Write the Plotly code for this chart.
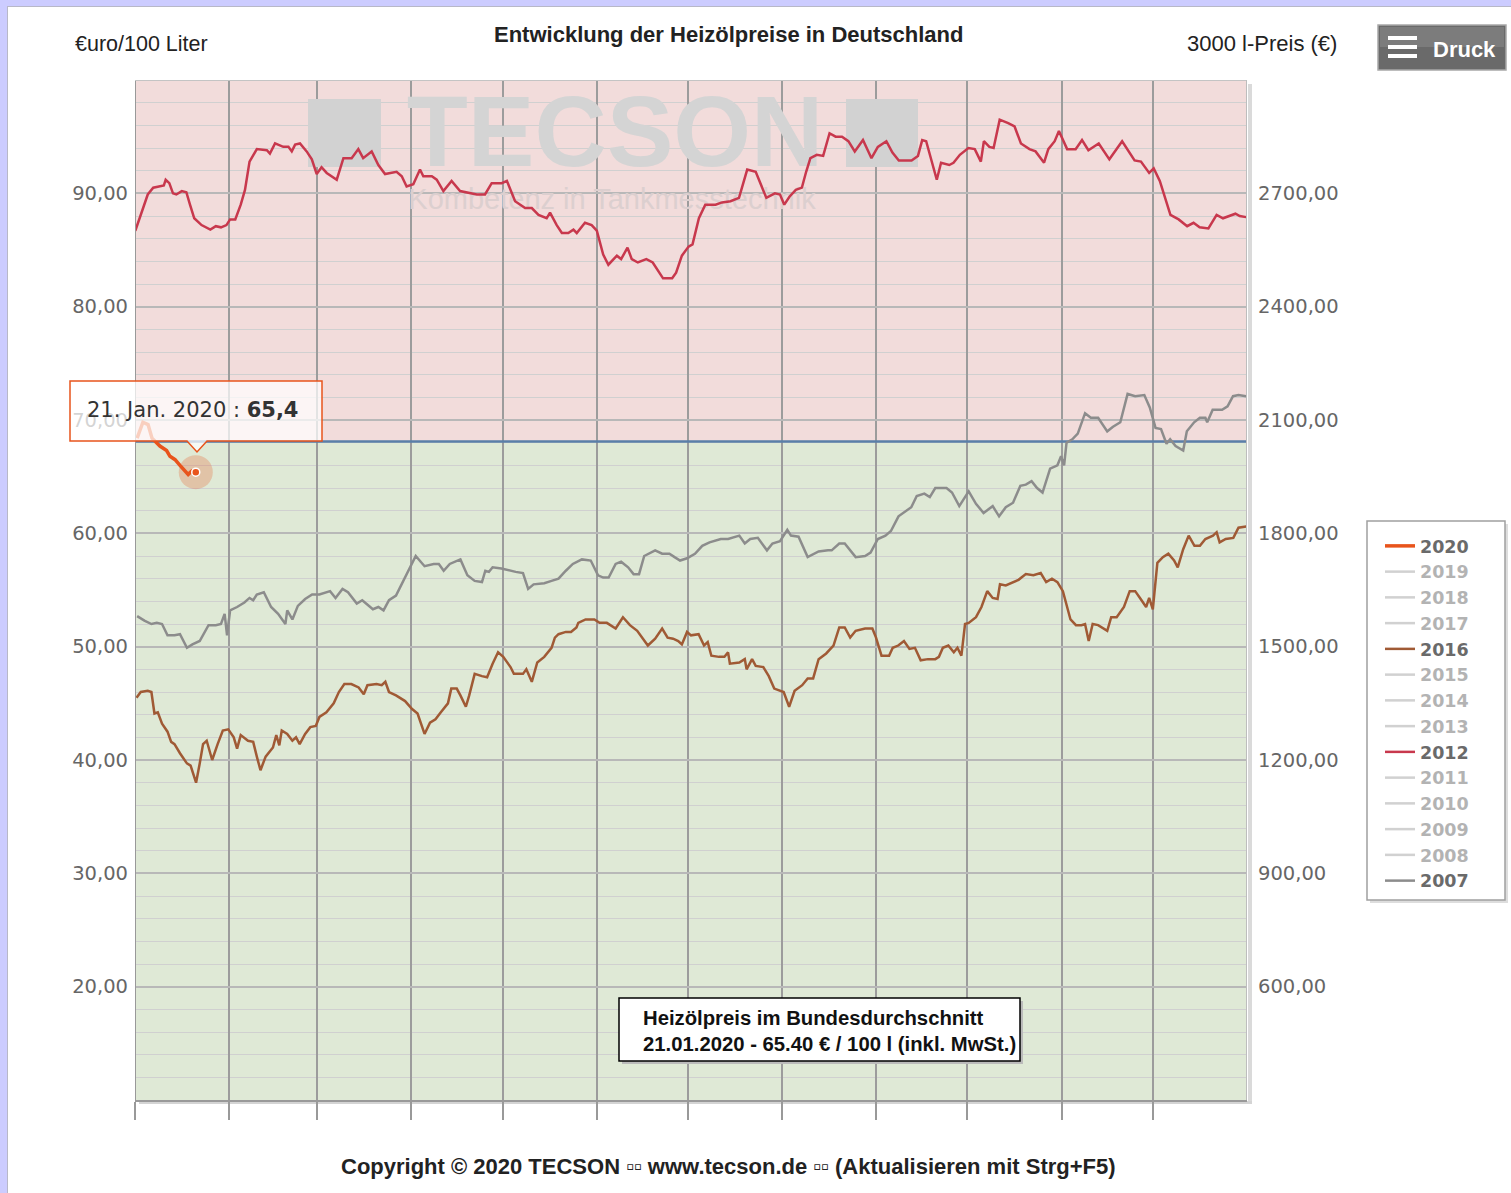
import plotly.graph_objects as go

# ------------------------------------------------------------------ data
MONTH_START_DAYS = [0, 31, 60, 91, 121, 152, 182, 213, 244, 274, 305, 335]
YEAR_DAYS = 366
LEFT_TICKS = [20, 30, 40, 50, 60, 70, 80, 90]
LEFT_TICKTEXT = ["20,00", "30,00", "40,00", "50,00", "60,00", "70,00", "80,00", "90,00"]
RIGHT_TICKS = [600, 900, 1200, 1500, 1800, 2100, 2400, 2700]
RIGHT_TICKTEXT = ["600,00", "900,00", "1200,00", "1500,00", "1800,00", "2100,00", "2400,00", "2700,00"]
LEGEND_YEARS = ["2020", "2019", "2018", "2017", "2016", "2015", "2014",
                "2013", "2012", "2011", "2010", "2009", "2008", "2007"]
LITERS_RIGHT_AXIS = 3000

DAYS_2020 = [0.7, 2.6, 4.3, 5.6, 8.2, 10.4, 11.5, 13.2, 14.8, 17.5, 18.7, 20.0]
PRICE_2020 = [68.4, 69.8, 69.6, 68.4, 67.7, 67.3, 66.8, 66.5, 66.0, 65.2, 65.5, 65.4]

DAYS_2012 = [0.1, 4.2, 6.0, 9.5, 10.1, 11.3, 12.5, 13.6, 15.4, 16.9,
             18.1, 19.5, 21.9, 24.8, 26.6, 28.3, 30.1, 31.3, 33.0, 34.8,
             36.2, 37.2, 37.7, 40.1, 43.4, 44.4, 46.1, 48.8, 50.5, 51.6,
             52.7, 54.3, 56.5, 58.2, 59.8, 61.4, 63.1, 66.4, 68.6, 71.3,
             73.5, 75.1, 77.9, 80.1, 82.3, 86.1, 87.8, 89.4, 91.6, 93.8,
             94.9, 97.7, 99.3, 101.5, 104.2, 107.0, 112.5, 115.2, 117.4, 120.7,
             122.4, 125.1, 128.4, 130.6, 132.8, 135.5, 136.6, 138.8, 140.5, 142.6,
             144.3, 145.4, 148.1, 150.3, 152.0, 154.1, 155.8, 158.6, 160.0, 162.1,
             163.5, 165.5, 168.3, 170.4, 172.4, 173.8, 176.8, 178.1, 180.0, 182.2,
             183.5, 185.6, 187.7, 191.1, 193.2, 196.0, 198.8, 201.5, 204.3, 206.4,
             207.8, 210.6, 212.3, 213.7, 215.4, 217.5, 219.5, 220.9, 222.3, 224.4,
             226.5, 228.6, 230.6, 232.7, 234.8, 236.9, 239.6, 242.4, 244.5, 247.3,
             249.3, 251.4, 255.6, 257.7, 259.1, 260.4, 262.5, 263.9, 265.3, 268.0,
             269.4, 271.5, 274.3, 276.4, 278.4, 279.4, 281.2, 282.6, 284.6, 287.4,
             289.5, 291.6, 294.4, 296.4, 299.2, 300.6, 302.7, 304.1, 306.8, 309.6,
             311.7, 313.8, 317.2, 320.7, 324.9, 329.0, 331.1, 333.8, 335.3, 337.3,
             340.8, 343.5, 346.3, 348.4, 350.4, 353.3, 356.0, 358.1, 362.2, 363.6,
             365.7]
PRICE_2012 = [86.7, 89.9, 90.5, 90.7, 91.2, 90.9, 90.0, 89.9, 90.2, 90.1,
              89.0, 87.8, 87.2, 86.8, 87.1, 87.0, 87.2, 87.7, 87.7, 89.0,
              90.3, 91.9, 92.8, 93.9, 93.8, 93.5, 94.4, 94.1, 94.1, 93.7,
              94.3, 94.4, 93.7, 93.0, 91.7, 92.3, 91.8, 91.2, 93.1, 93.1,
              93.9, 93.1, 93.7, 92.5, 91.7, 91.9, 91.5, 90.6, 90.8, 92.1,
              91.5, 91.5, 91.2, 90.2, 91.1, 90.2, 89.9, 89.9, 90.9, 90.9,
              91.1, 89.3, 88.7, 88.7, 88.1, 87.8, 88.3, 87.2, 86.5, 86.5,
              86.8, 86.5, 87.4, 87.2, 86.7, 84.6, 83.7, 84.5, 84.2, 85.2,
              84.2, 83.9, 84.2, 83.9, 83.1, 82.5, 82.5, 83.0, 84.5, 85.3,
              85.5, 87.8, 89.0, 89.0, 89.2, 89.3, 89.6, 92.1, 91.9, 90.5,
              89.6, 90.0, 89.9, 89.0, 89.7, 90.3, 90.5, 91.9, 93.1, 93.4,
              93.3, 95.3, 95.0, 95.0, 94.6, 93.7, 94.7, 93.1, 94.1, 94.6,
              93.6, 92.9, 92.9, 93.3, 94.7, 94.6, 92.5, 91.2, 92.7, 92.5,
              92.7, 93.4, 94.0, 93.9, 92.8, 94.6, 94.1, 94.0, 96.5, 96.2,
              95.9, 94.4, 93.9, 93.7, 92.7, 93.9, 94.6, 95.5, 93.9, 93.9,
              94.7, 93.8, 94.4, 93.0, 94.6, 92.9, 92.8, 91.8, 92.2, 91.1,
              88.1, 87.7, 87.1, 87.4, 87.0, 86.9, 88.1, 87.8, 88.2, 88.0,
              87.9]

DAYS_2016 = [0.5, 1.9, 4.2, 5.4, 6.4, 7.5, 8.9, 10.7, 11.9, 13.0,
             14.8, 17.1, 18.3, 20.1, 21.3, 22.4, 23.6, 25.4, 27.2, 28.9,
             30.7, 32.5, 33.6, 34.8, 37.2, 38.9, 40.1, 41.3, 43.0, 45.4,
             46.5, 47.5, 48.3, 50.1, 51.8, 53.0, 54.2, 56.0, 57.7, 59.5,
             60.7, 63.0, 65.4, 67.1, 68.9, 71.2, 73.6, 75.3, 76.5, 79.5,
             81.2, 82.4, 83.6, 85.9, 88.9, 91.2, 93.0, 95.3, 97.1, 98.9,
             100.6, 103.0, 104.1, 105.9, 107.1, 108.9, 110.0, 111.8, 114.2, 115.9,
             117.7, 119.5, 121.2, 123.6, 124.7, 127.7, 128.8, 130.6, 132.4, 134.7,
             137.1, 138.2, 139.4, 141.8, 143.5, 145.3, 145.9, 148.3, 151.2, 152.9,
             155.3, 158.2, 160.6, 162.9, 165.3, 167.0, 168.8, 171.2, 173.5, 175.3,
             177.1, 178.8, 180.0, 181.7, 183.0, 185.5, 187.3, 188.5, 189.7, 192.2,
             194.0, 195.2, 195.8, 198.9, 200.7, 201.3, 203.1, 204.3, 206.8, 208.6,
             210.4, 213.5, 215.3, 217.1, 219.6, 221.4, 223.2, 225.0, 227.5, 229.9,
             231.8, 233.6, 235.4, 237.2, 240.3, 242.7, 243.9, 245.7, 248.2, 249.4,
             251.2, 253.1, 254.9, 256.7, 258.6, 261.0, 263.4, 264.6, 265.9, 267.7,
             269.5, 270.7, 272.0, 273.2, 274.4, 276.8, 278.6, 280.5, 282.3, 283.9,
             284.7, 286.6, 289.0, 290.8, 293.2, 295.7, 298.1, 299.9, 301.8, 303.6,
             305.4, 306.6, 307.9, 309.7, 311.5, 312.7, 313.9, 315.2, 317.0, 320.0,
             321.3, 323.1, 325.5, 327.4, 329.2, 331.0, 332.8, 333.8, 335.0, 336.5,
             338.3, 340.1, 342.0, 343.2, 345.0, 346.8, 348.7, 350.5, 352.3, 354.8,
             356.0, 357.0, 359.0, 361.5, 363.2, 365.7]
PRICE_2016 = [45.5, 46.0, 46.1, 46.0, 44.1, 44.2, 43.2, 42.5, 41.6, 41.4,
              40.6, 39.7, 39.5, 38.0, 39.7, 41.4, 41.7, 40.0, 41.4, 42.6,
              42.7, 42.0, 41.0, 42.2, 41.7, 41.6, 40.3, 39.1, 40.3, 41.1,
              42.2, 41.3, 42.6, 42.3, 41.7, 42.0, 41.4, 42.3, 42.9, 43.0,
              43.8, 44.2, 45.0, 46.0, 46.7, 46.7, 46.4, 45.8, 46.6, 46.7,
              46.6, 46.9, 46.0, 45.7, 45.2, 44.5, 44.1, 42.3, 43.3, 43.6,
              44.2, 45.0, 46.3, 46.3, 45.7, 44.7, 45.7, 47.6, 47.4, 47.3,
              48.5, 49.5, 49.1, 48.2, 47.6, 47.6, 48.0, 46.9, 48.6, 49.1,
              49.9, 50.8, 51.1, 51.3, 51.3, 51.7, 52.1, 52.4, 52.4, 52.1,
              52.1, 51.6, 52.6, 51.9, 51.4, 50.8, 50.1, 50.7, 51.6, 50.8,
              50.7, 50.5, 50.2, 51.3, 51.0, 51.1, 50.1, 50.4, 49.2, 49.1,
              49.1, 49.5, 48.5, 48.6, 48.9, 48.0, 48.9, 48.3, 48.2, 47.4,
              46.3, 46.0, 44.7, 46.1, 46.6, 47.2, 47.2, 48.9, 49.4, 50.1,
              51.7, 51.7, 50.8, 51.4, 51.6, 51.6, 50.8, 49.2, 49.2, 49.9,
              50.1, 50.5, 49.8, 49.9, 48.8, 48.9, 48.9, 49.1, 49.9, 50.1,
              49.5, 49.9, 49.2, 52.0, 52.1, 52.6, 53.5, 54.9, 54.3, 54.2,
              55.5, 55.4, 55.7, 55.9, 56.4, 56.3, 56.5, 55.7, 56.0, 55.7,
              54.9, 53.6, 52.4, 51.9, 51.9, 52.0, 50.5, 52.0, 51.9, 51.4,
              52.6, 52.6, 53.5, 54.9, 54.9, 54.2, 53.5, 54.3, 53.3, 57.4,
              57.9, 58.2, 57.6, 57.0, 58.6, 59.8, 58.9, 58.9, 59.5, 59.8,
              60.1, 59.2, 59.5, 59.6, 60.5, 60.6]

DAYS_2007 = [0.7, 3.1, 5.4, 7.2, 8.9, 10.7, 13.0, 14.8, 17.1, 18.9,
             21.3, 22.4, 24.2, 26.6, 28.3, 29.5, 30.3, 31.3, 33.6, 36.0,
             37.7, 38.9, 40.1, 42.4, 44.8, 47.1, 49.5, 50.1, 51.8, 53.6,
             56.0, 58.3, 60.7, 64.2, 66.0, 68.3, 70.1, 73.0, 74.8, 78.3,
             80.1, 81.8, 83.6, 85.9, 87.7, 90.1, 92.4, 95.3, 98.3, 100.0,
             101.6, 103.6, 107.1, 109.4, 111.8, 114.2, 115.3, 116.5, 117.7, 120.6,
             123.6, 125.3, 127.7, 129.4, 131.2, 134.7, 137.1, 139.4, 141.8, 144.1,
             147.1, 150.0, 152.4, 154.1, 155.9, 158.2, 160.0, 162.3, 164.1, 165.9,
             167.6, 171.2, 173.5, 175.9, 177.6, 179.4, 181.7, 184.3, 186.7, 189.1,
             192.8, 195.2, 198.9, 200.7, 202.5, 205.0, 208.0, 209.8, 212.3, 214.7,
             215.9, 218.4, 221.4, 225.0, 228.1, 229.3, 231.8, 233.6, 237.2, 240.3,
             242.1, 244.5, 247.0, 248.8, 251.3, 253.7, 255.5, 257.3, 259.8, 261.6,
             263.4, 267.1, 268.9, 271.3, 274.4, 276.8, 279.3, 282.3, 284.4, 286.6,
             289.0, 291.4, 293.2, 295.1, 296.9, 298.7, 301.2, 303.6, 304.8, 305.8,
             306.6, 308.5, 310.3, 312.7, 314.6, 317.0, 320.0, 321.9, 324.3, 326.7,
             329.2, 332.2, 334.0, 335.9, 337.7, 339.5, 340.7, 342.5, 345.0, 346.2,
             348.6, 350.5, 352.3, 352.9, 354.7, 357.8, 359.6, 361.4, 363.2, 365.7]
PRICE_2007 = [52.7, 52.3, 52.0, 52.1, 52.0, 51.0, 51.0, 51.1, 49.9, 50.2,
              50.5, 51.0, 51.9, 51.9, 52.0, 52.9, 51.0, 53.2, 53.5, 53.9,
              54.3, 54.1, 54.6, 54.8, 53.5, 52.9, 52.0, 53.2, 52.4, 53.6,
              54.2, 54.6, 54.6, 54.9, 54.3, 55.1, 54.8, 53.8, 54.1, 53.3,
              53.5, 53.2, 54.1, 54.5, 55.5, 56.7, 58.0, 57.1, 57.3, 57.3,
              56.7, 57.3, 57.7, 56.3, 55.8, 55.7, 56.7, 56.6, 57.0, 56.9,
              56.7, 56.6, 56.5, 55.1, 55.5, 55.6, 55.8, 56.0, 56.7, 57.3,
              57.7, 57.6, 56.3, 56.1, 56.1, 57.3, 57.5, 57.0, 56.4, 56.4,
              58.0, 58.5, 58.2, 58.2, 57.9, 57.6, 57.8, 58.2, 58.9, 59.2,
              59.5, 59.5, 59.8, 59.1, 59.5, 59.6, 58.5, 59.1, 59.3, 60.3,
              59.8, 59.7, 57.9, 58.4, 58.5, 58.5, 59.1, 59.1, 57.9, 58.0,
              58.3, 59.5, 59.8, 60.2, 61.5, 62.0, 62.3, 63.3, 63.5, 63.2,
              64.0, 64.0, 63.6, 62.4, 63.7, 62.6, 61.8, 62.4, 61.5, 62.3,
              62.7, 64.2, 64.3, 64.6, 64.0, 63.6, 65.7, 66.0, 66.8, 66.0,
              68.0, 68.3, 68.8, 70.6, 70.2, 70.2, 69.0, 69.4, 69.8, 72.3,
              72.1, 72.2, 71.1, 69.3, 69.2, 67.9, 68.3, 67.7, 67.3, 69.0,
              69.8, 70.2, 70.2, 69.8, 70.9, 70.9, 71.2, 72.1, 72.2, 72.1]

THRESHOLD_PRICE = 68.1
LAST_DAY_2020 = 20.0
LAST_PRICE_2020 = 65.4

for a, b in [(DAYS_2020, PRICE_2020), (DAYS_2012, PRICE_2012),
             (DAYS_2016, PRICE_2016), (DAYS_2007, PRICE_2007)]:
    assert len(a) == len(b), (len(a), len(b))

# ------------------------------------------------------------------ geometry helpers
W, H = 1511, 1193
ML, MR, MT, MB = 135, 264, 80, 93
PW, PH = W - ML - MR, H - MT - MB
X0, X1, Y0, Y1 = 0, YEAR_DAYS, 10, 100
RIGHT_FACTOR = LITERS_RIGHT_AXIS / 100


def fx(px):
    return (px - ML) / PW


def fy(py):
    return (H - MB - py) / PH


def dx(px):
    return X0 + (px - ML) / PW * (X1 - X0)


def dy(py):
    return Y0 + (H - MB - py) / PH * (Y1 - Y0)


COL = {"2020": "#e8541c", "2016": "#a05a35", "2012": "#c8384d", "2007": "#8c8c8c"}
HIDDEN_COL = "#a4a4a4"

fig = go.Figure()

# watermark (drawn first so the series lie on top of it)
fig.add_trace(go.Scatter(x=[dx(615)], y=[dy(141)], mode="text", text=["<b>TECSON</b>"],
                         textfont=dict(family="Liberation Sans", size=100, color="#d4d4d4"),
                         showlegend=False, hoverinfo="skip"))
fig.add_trace(go.Scatter(x=[dx(612)], y=[dy(202)], mode="text", text=["Kombetenz in Tankmesstechnik"],
                         textfont=dict(family="Liberation Sans", size=29, color="#dccfcf"),
                         showlegend=False, hoverinfo="skip"))

series = {"2007": (DAYS_2007, PRICE_2007), "2012": (DAYS_2012, PRICE_2012),
          "2016": (DAYS_2016, PRICE_2016)}
for yr in ["2007", "2012", "2016"]:
    xs, ys = series[yr]
    fig.add_trace(go.Scatter(x=xs, y=ys, mode="lines", name=yr,
                             line=dict(color=COL[yr], width=2.5),
                             legendrank=LEGEND_YEARS.index(yr) + 1, hoverinfo="skip"))

for yr in LEGEND_YEARS:
    if yr in ("2020", "2016", "2012", "2007"):
        continue
    fig.add_trace(go.Scatter(x=[None], y=[None], mode="lines", name=yr, visible="legendonly",
                             line=dict(color=HIDDEN_COL, width=2.5),
                             legendrank=LEGEND_YEARS.index(yr) + 1))

fig.add_trace(go.Scatter(x=DAYS_2020, y=PRICE_2020, mode="lines", name="2020",
                         line=dict(color=COL["2020"], width=3.5),
                         legendrank=1, hoverinfo="skip"))
# same 2020 series expressed as 3000-litre price on the right axis (invisible, drives axis)
fig.add_trace(go.Scatter(x=DAYS_2020, y=[p * RIGHT_FACTOR for p in PRICE_2020], mode="lines",
                         yaxis="y2", line=dict(color="rgba(0,0,0,0)", width=0),
                         showlegend=False, hoverinfo="skip"))
# hover halo + marker on last 2020 point
fig.add_trace(go.Scatter(x=[LAST_DAY_2020], y=[LAST_PRICE_2020], mode="markers",
                         marker=dict(size=34, color="rgba(232,84,28,0.25)"),
                         showlegend=False, hoverinfo="skip"))
fig.add_trace(go.Scatter(x=[LAST_DAY_2020], y=[LAST_PRICE_2020], mode="markers",
                         marker=dict(size=8, color=COL["2020"], line=dict(color="white", width=1.5)),
                         showlegend=False, hoverinfo="skip"))

shapes = []
# page border (lavender)
shapes.append(dict(type="rect", xref="paper", yref="paper", x0=fx(0), x1=fx(W), y0=fy(0), y1=fy(6),
                   fillcolor="#ccccff", line_width=0, layer="below"))
shapes.append(dict(type="rect", xref="paper", yref="paper", x0=fx(0), x1=fx(7), y0=fy(0), y1=fy(H),
                   fillcolor="#ccccff", line_width=0, layer="below"))
shapes.append(dict(type="line", xref="paper", yref="paper", x0=fx(7), x1=fx(W), y0=fy(6.5), y1=fy(6.5),
                   line=dict(color="#b8b8c8", width=1), layer="below"))
shapes.append(dict(type="line", xref="paper", yref="paper", x0=fx(7.5), x1=fx(7.5), y0=fy(6), y1=fy(H),
                   line=dict(color="#b8b8c8", width=1), layer="below"))
# plot shadow
shapes.append(dict(type="rect", xref="paper", yref="paper", x0=fx(1248), x1=fx(1252), y0=fy(84), y1=fy(1104),
                   fillcolor="#dadada", line_width=0, layer="below"))
shapes.append(dict(type="rect", xref="paper", yref="paper", x0=fx(139), x1=fx(1252), y0=fy(1101), y1=fy(1104),
                   fillcolor="#d4d4d4", line_width=0, layer="below"))
# price zones
shapes.append(dict(type="rect", xref="x", yref="y", x0=X0, x1=X1, y0=THRESHOLD_PRICE, y1=Y1,
                   fillcolor="#f2dcdb", line_width=0, layer="below"))
shapes.append(dict(type="rect", xref="x", yref="y", x0=X0, x1=X1, y0=Y0, y1=THRESHOLD_PRICE,
                   fillcolor="#dfe9d6", line_width=0, layer="below"))
# watermark squares
for a, b in [(308, 381), (846, 918)]:
    shapes.append(dict(type="rect", xref="x", yref="y", x0=dx(a), x1=dx(b), y0=dy(167), y1=dy(99),
                       fillcolor="#d2d2d2", line_width=0, layer="between"))
# threshold line
shapes.append(dict(type="line", xref="x", yref="y", x0=X0, x1=X1, y0=THRESHOLD_PRICE, y1=THRESHOLD_PRICE,
                   line=dict(color="#5a7fa8", width=2.5), layer="between"))
# frame
shapes.append(dict(type="line", xref="x", yref="y", x0=X0, x1=X0, y0=Y0, y1=Y1,
                   line=dict(color="#999999", width=2), layer="above"))
shapes.append(dict(type="line", xref="x", yref="y", x0=X0, x1=X1, y0=Y1, y1=Y1,
                   line=dict(color="#c4c4c4", width=2), layer="above"))
shapes.append(dict(type="line", xref="x", yref="y", x0=X1, x1=X1, y0=Y0, y1=Y1,
                   line=dict(color="#bdbdbd", width=2), layer="above"))
# tooltip box with pointer
tip = ("M {a},{t} L {b},{t} L {b},{u} L {p2},{u} L {pm},{tipy} L {p1},{u} L {a},{u} Z"
       .format(a=fx(70), b=fx(322), t=fy(381), u=fy(441), p1=fx(187), pm=fx(197), p2=fx(207), tipy=fy(452)))
shapes.append(dict(type="path", xref="paper", yref="paper", path=tip,
                   fillcolor="rgba(255,255,255,0.72)", line=dict(color="#e8541c", width=1.5), layer="above"))
# info box
shapes.append(dict(type="rect", xref="paper", yref="paper", x0=fx(622), x1=fx(1023), y0=fy(1064), y1=fy(1001),
                   fillcolor="#bbbbbb", line_width=0, layer="above"))
shapes.append(dict(type="rect", xref="paper", yref="paper", x0=fx(619), x1=fx(1020), y0=fy(1061), y1=fy(998),
                   fillcolor="white", line=dict(color="black", width=1.5), layer="above"))
# legend box
shapes.append(dict(type="rect", xref="paper", yref="paper", x0=fx(1370), x1=fx(1508), y0=fy(903), y1=fy(524),
                   fillcolor="#dddddd", line_width=0, layer="above"))
shapes.append(dict(type="rect", xref="paper", yref="paper", x0=fx(1367), x1=fx(1505), y0=fy(900), y1=fy(521),
                   fillcolor="white", line=dict(color="#a0a0a0", width=1.5), layer="above"))
# Druck button
shapes.append(dict(type="rect", xref="paper", yref="paper", x0=fx(1378), x1=fx(1506), y0=fy(70), y1=fy(25),
                   fillcolor="#6a6a6a", line=dict(color="#a8a8a8", width=1.5), layer="above"))
shapes.append(dict(type="rect", xref="paper", yref="paper", x0=fx(1380), x1=fx(1504), y0=fy(47), y1=fy(27),
                   fillcolor="rgba(255,255,255,0.12)", line_width=0, layer="above"))
for yy in (38, 47, 56):
    shapes.append(dict(type="rect", xref="paper", yref="paper", x0=fx(1388), x1=fx(1417),
                       y0=fy(yy + 2), y1=fy(yy - 2), fillcolor="white", line_width=0, layer="above"))

annotations = [
    dict(text="€uro/100 Liter", x=fx(73), y=fy(44), xanchor="left", yanchor="middle",
         font=dict(family="Liberation Sans", size=21.5, color="#222")),
    dict(text="<b>Entwicklung der Heizölpreise in Deutschland</b>", x=fx(728), y=fy(35),
         xanchor="center", yanchor="middle", font=dict(family="Liberation Sans", size=22, color="#222")),
    dict(text="3000 l-Preis (€)", x=fx(1339), y=fy(44), xanchor="right", yanchor="middle",
         font=dict(family="Liberation Sans", size=22, color="#222")),
    dict(text="<b>Druck</b>", x=fx(1464), y=fy(49), xanchor="center", yanchor="middle",
         font=dict(family="Liberation Sans", size=22, color="white")),
    dict(text="21. Jan. 2020 : <b>65,4</b>", x=fx(85), y=fy(410), xanchor="left", yanchor="middle",
         font=dict(family="DejaVu Sans", size=21, color="#333")),
    dict(text="<b>Heizölpreis im Bundesdurchschnitt<br>21.01.2020 - 65.40 € / 100 l (inkl. MwSt.)</b>",
         x=fx(641), y=fy(1031), xanchor="left", yanchor="middle", align="left",
         font=dict(family="Liberation Sans", size=20.3, color="#111")),
    dict(text="<b>Copyright © 2020 TECSON ▫▫ www.tecson.de ▫▫ (Aktualisieren mit Strg+F5)</b>",
         x=fx(728), y=fy(1166), xanchor="center", yanchor="middle",
         font=dict(family="Liberation Sans", size=22, color="#222")),
]
for a in annotations:
    a.update(xref="paper", yref="paper", showarrow=False)

fig.update_layout(
    width=W, height=H,
    margin=dict(l=ML, r=MR, t=MT, b=MB, autoexpand=False),
    paper_bgcolor="white", plot_bgcolor="#dfe9d6",
    hovermode=False,
    showlegend=True,
    legend=dict(x=fx(1380), y=fy(528), xanchor="left", yanchor="top",
                bgcolor="rgba(0,0,0,0)", borderwidth=0, itemwidth=30,
                font=dict(family="DejaVu Sans", size=17.5, color="#6a6a6a", weight="bold"),
                itemclick=False, itemdoubleclick=False),
    xaxis=dict(range=[X0, X1], tickmode="array", tickvals=MONTH_START_DAYS,
               showticklabels=False, ticks="outside", ticklen=18, tickwidth=1.5, tickcolor="#999",
               showgrid=True, gridcolor="#9c9c9c", gridwidth=1.5, zeroline=False,
               showline=True, linecolor="#999", linewidth=2, fixedrange=True),
    yaxis=dict(range=[Y0, Y1], tickmode="array", tickvals=LEFT_TICKS, ticktext=LEFT_TICKTEXT,
               showgrid=True, gridcolor="#b8b8b8", gridwidth=1.5, zeroline=False, showline=False,
               ticks="", ticklabelstandoff=6,
               tickfont=dict(family="DejaVu Sans", size=19.5, color="#666"),
               minor=dict(tickmode="linear", tick0=10, dtick=2, showgrid=True,
                          gridcolor="#d0d0d0", gridwidth=1.2),
               fixedrange=True),
    yaxis2=dict(range=[Y0 * RIGHT_FACTOR, Y1 * RIGHT_FACTOR], overlaying="y", side="right", anchor="x",
                tickmode="array", tickvals=RIGHT_TICKS, ticktext=RIGHT_TICKTEXT,
                showgrid=False, zeroline=False, showline=False, ticks="", ticklabelstandoff=10,
                tickfont=dict(family="DejaVu Sans", size=19.5, color="#666"), fixedrange=True),
    shapes=shapes,
    annotations=annotations,
)

fig.write_html("out.html", config={"displayModeBar": False},
               post_script="document.body.style.margin='0';document.body.style.overflow='hidden';")
